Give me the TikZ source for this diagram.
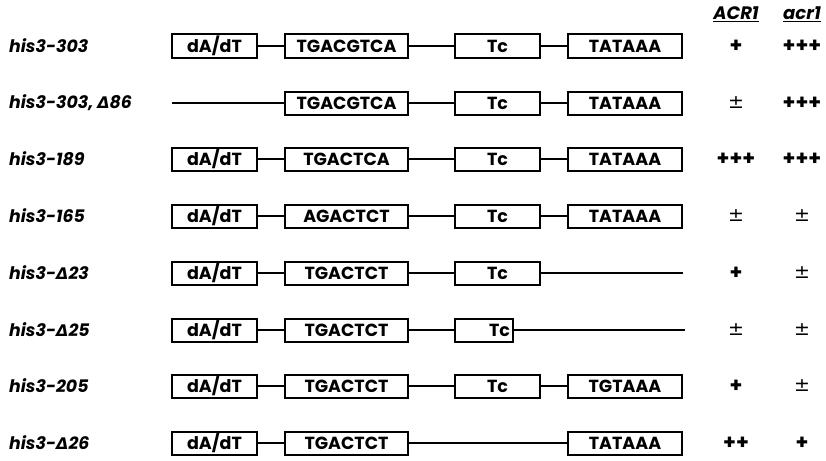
\documentclass[tikz,border=0pt]{standalone}
\usepackage{fontspec}
\setmainfont{Poppins}
\newfontfamily\dvs{DejaVu Sans}
\newcommand{\Dl}{{\dvs\itshape\fontsize{16}{18}\selectfont Δ}}
\tikzset{
  seg/.style={draw, line width=2pt, minimum height=23pt, inner sep=0pt, font=\fontsize{17.5}{19}\selectfont\bfseries},
  lbl/.style={anchor=west, inner sep=0pt, font=\fontsize{17.3}{19}\selectfont\bfseries\itshape},
  scr/.style={inner sep=0pt, font=\fontsize{20.5}{22}\selectfont\bfseries},
  pm/.style={inner sep=0pt, font=\dvs\fontsize{19}{21}\selectfont},
  hdr/.style={inner sep=0pt, font=\fontsize{18}{20}\selectfont\bfseries\itshape},
  link/.style={line width=1.5pt},
}
\begin{document}
\begin{tikzpicture}[x=1pt,y=-1pt]
\useasboundingbox (0,0) rectangle (826,460);
% headers
\node[hdr] (h1) at (736,14) {\underline{ACR1}};
\node[hdr] (h2) at (802,14) {\underline{acr1}};
% row 1
\node[lbl] (l1) at (9,46) {his3-303};
\node[seg, minimum width=85pt] (a1) at (214.5,46) {dA/dT};
\node[seg, minimum width=123pt] (b1) at (346.5,46) {TGACGTCA};
\node[seg, minimum width=85pt] (c1) at (497.5,46) {Tc};
\node[seg, minimum width=114pt] (d1) at (625,46) {TATAAA};
\draw[link] (a1) -- (b1) (b1) -- (c1) (c1) -- (d1);
\node[scr] (p1) at (736,46) {+};
\node[scr] (q1) at (802,46) {+++};
% row 2
\node[lbl] (l2) at (9,103) {his3-303, \Dl86};
\coordinate (s2) at (172,103);
\node[seg, minimum width=123pt] (b2) at (346.5,103) {TGACGTCA};
\node[seg, minimum width=85pt] (c2) at (497.5,103) {Tc};
\node[seg, minimum width=114pt] (d2) at (625,103) {TATAAA};
\draw[link] (s2) -- (b2) (b2) -- (c2) (c2) -- (d2);
\node[pm] (p2) at (736,103) {±};
\node[scr] (q2) at (802,103) {+++};
% row 3
\node[lbl] (l3) at (9,159) {his3-189};
\node[seg, minimum width=85pt] (a3) at (214.5,159) {dA/dT};
\node[seg, minimum width=123pt] (b3) at (346.5,159) {TGACTCA};
\node[seg, minimum width=85pt] (c3) at (497.5,159) {Tc};
\node[seg, minimum width=114pt] (d3) at (625,159) {TATAAA};
\draw[link] (a3) -- (b3) (b3) -- (c3) (c3) -- (d3);
\node[scr] (p3) at (736,159) {+++};
\node[scr] (q3) at (802,159) {+++};
% row 4
\node[lbl] (l4) at (9,216) {his3-165};
\node[seg, minimum width=85pt] (a4) at (214.5,216) {dA/dT};
\node[seg, minimum width=123pt] (b4) at (346.5,216) {AGACTCT};
\node[seg, minimum width=85pt] (c4) at (497.5,216) {Tc};
\node[seg, minimum width=114pt] (d4) at (625,216) {TATAAA};
\draw[link] (a4) -- (b4) (b4) -- (c4) (c4) -- (d4);
\node[pm] (p4) at (736,216) {±};
\node[pm] (q4) at (802,216) {±};
% row 5
\node[lbl] (l5) at (9,273) {his3-\Dl23};
\node[seg, minimum width=85pt] (a5) at (214.5,273) {dA/dT};
\node[seg, minimum width=123pt] (b5) at (346.5,273) {TGACTCT};
\node[seg, minimum width=85pt] (c5) at (497.5,273) {Tc};
\coordinate (e5) at (683,273);
\draw[link] (a5) -- (b5) (b5) -- (c5) (c5) -- (e5);
\node[scr] (p5) at (736,273) {+};
\node[pm] (q5) at (802,273) {±};
% row 6
\node[lbl] (l6) at (9,330) {his3-\Dl25};
\node[seg, minimum width=85pt] (a6) at (214.5,330) {dA/dT};
\node[seg, minimum width=123pt] (b6) at (346.5,330) {TGACTCT};
\node[seg, minimum width=58pt, text width=52pt, align=right, inner xsep=3pt] (c6) at (484,330) {Tc};
\coordinate (e6) at (685,330);
\draw[link] (a6) -- (b6) (b6) -- (c6) (c6) -- (e6);
\node[pm] (p6) at (736,330) {±};
\node[pm] (q6) at (802,330) {±};
% row 7
\node[lbl] (l7) at (9,386) {his3-205};
\node[seg, minimum width=85pt] (a7) at (214.5,386) {dA/dT};
\node[seg, minimum width=123pt] (b7) at (346.5,386) {TGACTCT};
\node[seg, minimum width=85pt] (c7) at (497.5,386) {Tc};
\node[seg, minimum width=114pt] (d7) at (625,386) {TGTAAA};
\draw[link] (a7) -- (b7) (b7) -- (c7) (c7) -- (d7);
\node[scr] (p7) at (736,386) {+};
\node[pm] (q7) at (802,386) {±};
% row 8
\node[lbl] (l8) at (9,443) {his3-\Dl26};
\node[seg, minimum width=85pt] (a8) at (214.5,443) {dA/dT};
\node[seg, minimum width=123pt] (b8) at (346.5,443) {TGACTCT};
\node[seg, minimum width=114pt] (d8) at (625,443) {TATAAA};
\draw[link] (a8) -- (b8) (b8) -- (d8);
\node[scr] (p8) at (736,443) {++};
\node[scr] (q8) at (802,443) {+};
\end{tikzpicture}
\end{document}
